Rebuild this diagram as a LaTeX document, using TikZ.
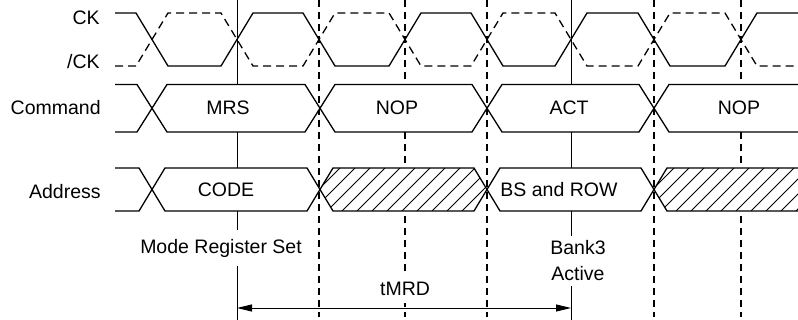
\documentclass[tikz,border=0pt]{standalone}
\usepackage{fontspec}
\setmainfont{Liberation Sans}
\usetikzlibrary{arrows.meta}

\tikzset{every picture/.style={line width=0.75pt}}

\begin{document}
\begin{tikzpicture}[x=1pt,y=1pt,yscale=-1,xscale=1,
	clk/.style={line width=1.3pt},
	bus/.style={line width=1.3pt, fill=white},
	tick/.style={line width=1.4pt, dash pattern={on 7pt off 5pt}},
	refline/.style={line width=0.9pt},
	lbl/.style={inner sep=0pt, font=\fontsize{19.5}{26}\selectfont}]
	\useasboundingbox (0,0) rectangle (798,320);
	
	%Straight Lines: dashed clock edges
	\foreach \x in {319,405,487,654,741}
		\draw [tick] (\x,0) -- (\x,317);
	%Straight Lines: reference edges
	\draw [refline] (237,0) -- (237,320);
	\draw [refline] (571,0) -- (571,320);
	
	%Clock CK
	\draw [clk] (115,13) -- (136,13) -- (168,66) -- (221,66) -- (253,13) -- (303,13) -- (335,66) -- (389,66) -- (421,13) -- (471,13) -- (503,66) -- (555,66) -- (587,13) -- (638,13) -- (670,66) -- (725,66) -- (757,13) -- (798,13);
	%Clock /CK
	\draw [clk, dash pattern={on 8pt off 5pt}] (115,66) -- (136,66) -- (168,13) -- (221,13) -- (253,66) -- (303,66) -- (335,13) -- (389,13) -- (421,66) -- (471,66) -- (503,13) -- (555,13) -- (587,66) -- (638,66) -- (670,13) -- (725,13) -- (757,66) -- (798,66);
	
	%Shape: Command bus
	\draw [bus] (115,84.5) -- (137,84.5) -- (152,108.25) -- (137,132) -- (115,132);
	\draw [bus] (152,108.25) -- (167,84.5) -- (305,84.5) -- (320,108.25) -- (305,132) -- (167,132) -- cycle;
	\draw [bus] (320,108.25) -- (335,84.5) -- (472,84.5) -- (487,108.25) -- (472,132) -- (335,132) -- cycle;
	\draw [bus] (487,108.25) -- (502,84.5) -- (639,84.5) -- (654,108.25) -- (639,132) -- (502,132) -- cycle;
	\draw [bus] (798,84.5) -- (669,84.5) -- (654,108.25) -- (669,132) -- (798,132);
	
	%Shape: Address bus
	\draw [bus] (115,168) -- (139,168) -- (152,189.5) -- (139,211) -- (115,211);
	\draw [bus] (152,189.5) -- (165,168) -- (307,168) -- (320,189.5) -- (307,211) -- (165,211) -- cycle;
	\draw [bus] (320,189.5) -- (333,168) -- (474,168) -- (487,189.5) -- (474,211) -- (333,211) -- cycle;
	\draw [bus] (487,189.5) -- (500,168) -- (641,168) -- (654,189.5) -- (641,211) -- (500,211) -- cycle;
	\draw [bus] (798,168) -- (667,168) -- (654,189.5) -- (667,211) -- (798,211);
	%Hatch: don't care
	\begin{scope}
		\clip (320,189.5) -- (333,168) -- (474,168) -- (487,189.5) -- (474,211) -- (333,211) -- cycle;
		\foreach \x in {297,312,...,492}
			\draw [line width=0.8pt] (\x,211) -- ++(43,-43);
	\end{scope}
	\begin{scope}
		\clip (798,168) -- (667,168) -- (654,189.5) -- (667,211) -- (798,211) -- cycle;
		\foreach \x in {631,646,...,811}
			\draw [line width=0.8pt] (\x,211) -- ++(43,-43);
	\end{scope}
	
	% Text Node
	\node [lbl, anchor=east] (ck) at (100,18) {CK};
	\node [lbl, anchor=east] (ckn) at (100,62) {/CK};
	\node [lbl, anchor=east] (cmd) at (101,108) {Command};
	\node [lbl, anchor=east] (addr) at (101,192) {Address};
	% Text Node
	\node [lbl] (mrs) at (228,108) {MRS};
	\node [lbl] (nopa) at (397,108) {NOP};
	\node [lbl] (act) at (569,108) {ACT};
	\node [lbl] (nopb) at (739,108) {NOP};
	\node [lbl] (code) at (226,190) {CODE};
	\node [lbl] (bsrow) at (559,190) {BS and ROW};
	% Text Node
	\node [lbl, fill=white, inner xsep=2pt, inner ysep=9pt] (modeset) at (221,248) {Mode Register Set};
	\node [lbl, fill=white, inner xsep=2pt, inner ysep=5pt, align=center] (bank) at (578,261) {Bank3\\Active};
	\node [lbl, fill=white, inner xsep=2pt, inner ysep=7pt] (tmrd) at (405,289) {tMRD};
	
	%Straight Lines: tMRD span
	\coordinate (tstart) at (237,308);
	\coordinate (tend) at (571,308);
	\draw [refline, {Triangle[length=15pt,width=7pt]}-{Triangle[length=15pt,width=7pt]}] (tstart) -- (tend);
	
\end{tikzpicture}
\end{document}
